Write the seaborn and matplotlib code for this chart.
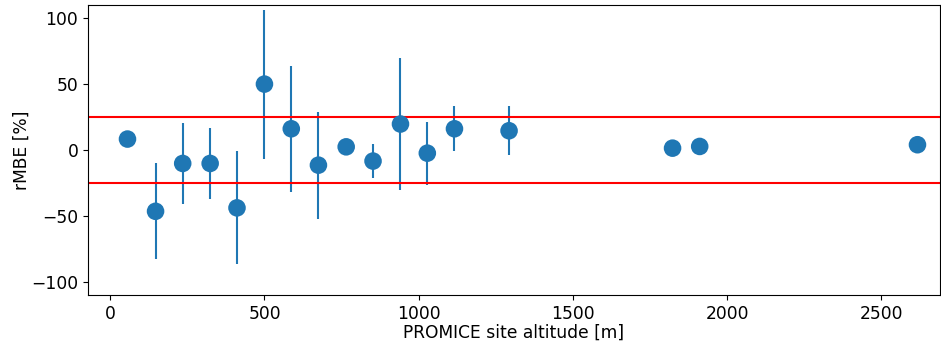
import numpy as np
import pandas as pd
import matplotlib
matplotlib.use("Agg")
import matplotlib.pyplot as plt
import seaborn as sns

# Site altitude [m], rMBE [%] and its spread (nan = no bar)
altitude = [56, 147, 235, 324, 411, 500, 587, 675, 765, 852,
            941, 1028, 1116, 1293, 1823, 1911, 2617]
rmbe = [8.3, -46.5, -10.2, -10.2, -43.9, 50.0, 16.1, -11.5, 2.4, -8.4,
        19.7, -2.4, 16.1, 14.6, 1.4, 2.7, 4.0]
rmbe_err = [np.nan, 36.5, 30.7, 27.0, 42.8, 56.5, 48.0, 40.5, np.nan, 13.0,
            50.0, 23.8, 17.0, 18.5, np.nan, np.nan, np.nan]
threshold = 25

df = pd.DataFrame({"alt": altitude, "rmbe": rmbe, "err": rmbe_err})

plt.rcParams['font.size'] = 12.3
fig = plt.figure(figsize=(9.41, 3.42), dpi=100)
ax = fig.add_axes([88 / 941, 47 / 342, 852 / 941, 290 / 342])

ax.errorbar(df["alt"], df["rmbe"], yerr=df["err"], fmt='none',
            ecolor='tab:blue', elinewidth=1.5)
sns.scatterplot(data=df, x="alt", y="rmbe", ax=ax, s=160,
                color='tab:blue', edgecolor='none', zorder=3)
ax.axhline(threshold, color='red', lw=1.5)
ax.axhline(-threshold, color='red', lw=1.5)

ax.set_xlim(-72, 2690)
ax.set_ylim(-110, 110)
ax.set_xlabel('PROMICE site altitude [m]', labelpad=1)
ax.set_ylabel('rMBE [%]', labelpad=0)

fig.savefig("out.png", dpi=100)
